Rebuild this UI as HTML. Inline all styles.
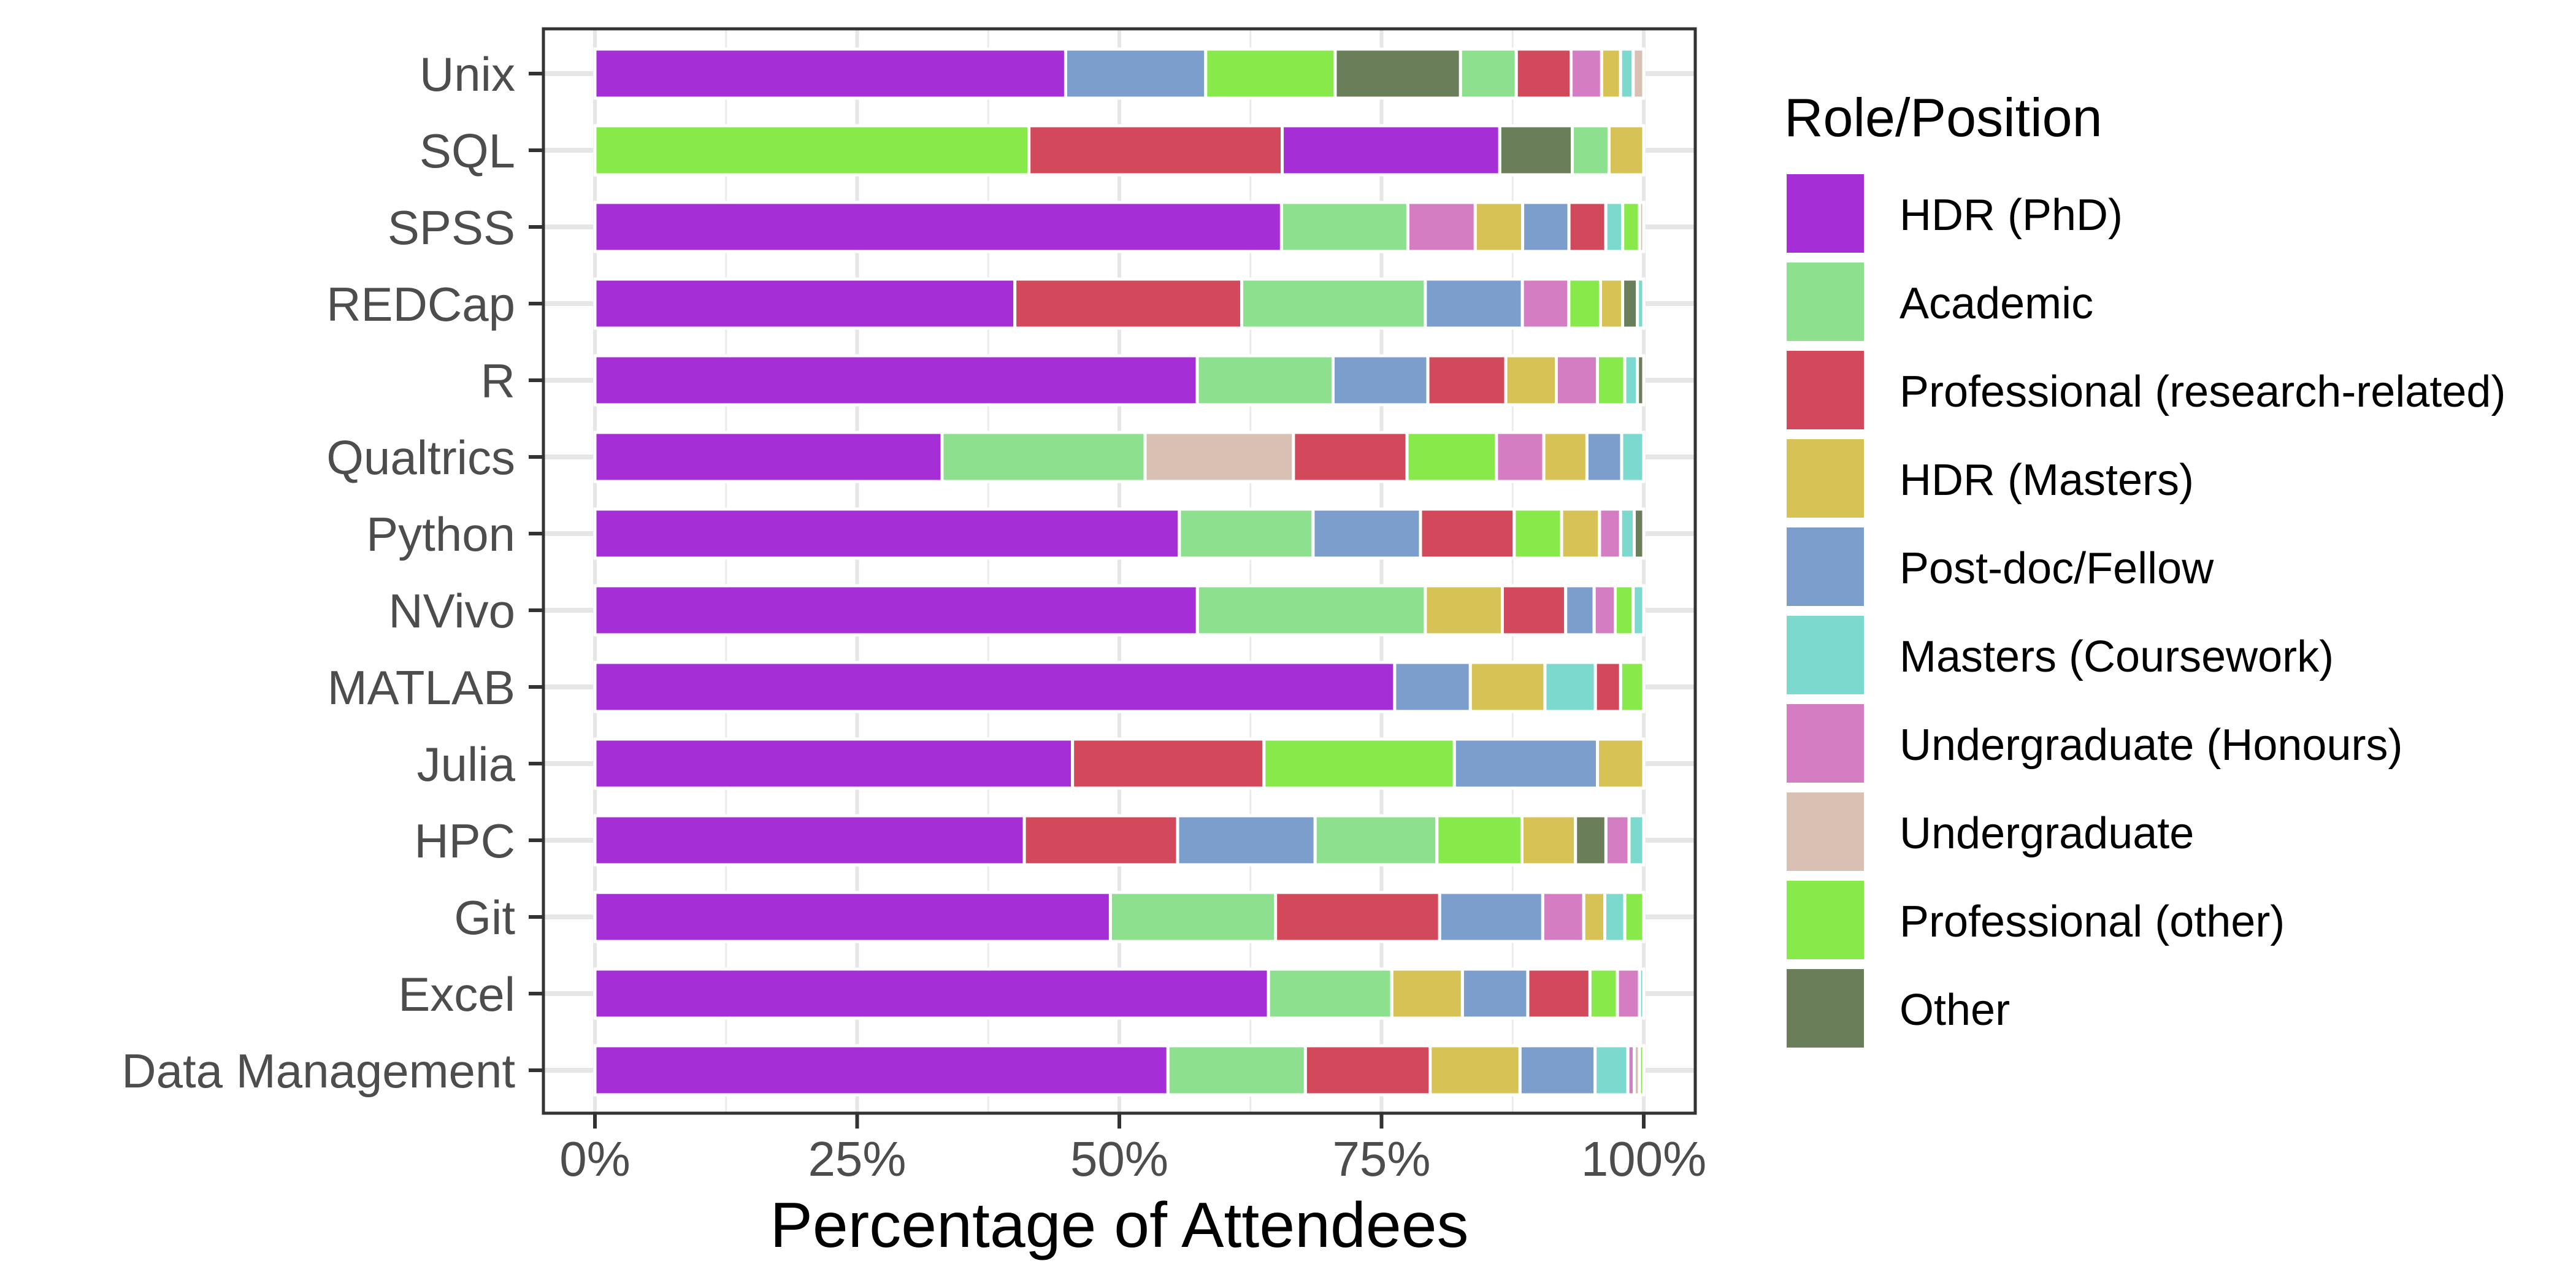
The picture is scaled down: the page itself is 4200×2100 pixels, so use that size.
<!DOCTYPE html>
<html><head><meta charset="utf-8"><style>
html,body{margin:0;padding:0;background:#fff;}
svg{display:block;font-family:"Liberation Sans",sans-serif;}
</style></head><body>
<svg id="chart" width="4200" height="2100" viewBox="0 0 4200 2100" xmlns="http://www.w3.org/2000/svg">
<rect x="0" y="0" width="4200" height="2100" fill="#fff"/>
<g id="grid"></g>
<g id="bars"></g>
<rect x="886" y="47" width="1878" height="1768" fill="none" stroke="#333" stroke-width="5"/>
<g id="yaxis"></g>
<g id="xaxis"></g>
<text x="1825" y="2033" font-size="104" text-anchor="middle" fill="#000">Percentage of Attendees</text>
<g id="legend">
<text x="2909" y="222" font-size="88" fill="#000">Role/Position</text>
</g>
</svg>
<script>
const tools = ["Unix","SQL","SPSS","REDCap","R","Qualtrics","Python","NVivo","MATLAB","Julia","HPC","Git","Excel","Data Management"];
const roles = ["HDR (PhD)","Academic","Professional (research-related)","HDR (Masters)","Post-doc/Fellow","Masters (Coursework)","Undergraduate (Honours)","Undergraduate","Professional (other)","Other"];
const roleColors = ["#a52ed7","#8de08e","#d1495b","#d6c255","#7b9ecc","#7bd9cd","#d47dc3","#d8c1b3","#87ea4a","#6a7e5a"];
const hdrPhd       = [44.7,20.7,65.2,39.8,57.2,33.0,55.5,57.1,76.1,45.4,40.9,49.0,63.9,54.2];
const academic     = [5.3,3.5,12.0,17.4,12.9,19.3,12.7,21.6,0,0,11.6,15.7,11.7,13.0];
const profResearch = [5.2,24.1,3.5,21.5,7.4,10.8,8.9,6.0,2.4,18.2,14.6,15.6,5.9,11.8];
const hdrMasters   = [1.8,3.3,4.5,2.1,4.8,4.1,3.6,7.3,7.1,4.4,5.1,2.0,6.7,8.5];
const postdoc      = [13.3,0,4.4,9.2,9.0,3.3,10.2,2.7,7.2,13.6,13.1,9.8,6.2,7.1];
const mastersCw    = [1.2,0,1.6,0.6,1.2,2.1,1.3,1.0,4.8,0,1.4,1.9,0.4,3.1];
const ugHonours    = [2.9,0,6.4,4.4,3.9,4.5,2.0,2.0,0,0,2.2,3.9,2.1,0.6];
const undergrad    = [1.0,0,0.4,0,0,14.1,0,0,0,0,0,0,0,0.5];
const profOther    = [12.3,41.3,1.6,3.0,2.6,8.5,4.5,1.7,2.2,18.1,8.1,1.8,2.6,0.4];
const other        = [11.9,6.9,0,1.4,0.6,0,0.9,0,0,0,2.9,0,0,0];
const series = [hdrPhd,academic,profResearch,hdrMasters,postdoc,mastersCw,ugHonours,undergrad,profOther,other];
const xTicks = [0,25,50,75,100];
const xTickLabels = ["0%","25%","50%","75%","100%"];

const NS="http://www.w3.org/2000/svg";
function mk(tag,attrs,parent){const e=document.createElementNS(NS,tag);for(const k in attrs)e.setAttribute(k,attrs[k]);parent.appendChild(e);return e;}
const X0=970,X1=2680,PL=886,PR=2764,PT=47,PB=1815;
const xs=v=>X0+(X1-X0)*v/100;
const ys=i=>120+i*125;
const barH=80;

const grid=document.getElementById('grid');
for(let i=0;i<xTicks.length-1;i++){
  const m=(xTicks[i]+xTicks[i+1])/2;
  const g=mk('line',{x1:xs(m),x2:xs(m),y1:PT,y2:PB,stroke:'#ebebeb','stroke-width':3},grid);
  
  
}
xTicks.forEach(t=>{
  const g=mk('line',{x1:xs(t),x2:xs(t),y1:PT,y2:PB,stroke:'#e6e6e6','stroke-width':6},grid);
  
  
});
tools.forEach((t,i)=>{
  const g=mk('line',{x1:PL,x2:PR,y1:ys(i),y2:ys(i),stroke:'#e6e6e6','stroke-width':8},grid);
  
  
});

const bars=document.getElementById('bars');
tools.forEach((t,i)=>{
  const segs=series.map((s,r)=>({r:r,v:s[i]})).filter(d=>d.v>0).sort((a,b)=>b.v-a.v);
  const total=segs.reduce((a,d)=>a+d.v,0);
  let acc=0;
  const grp=mk('g',{},bars);
  
  
  segs.forEach(d=>{
    const p=d.v/total*100;
    const x=xs(acc),w=xs(acc+p)-xs(acc);
    const r=mk('rect',{x:x,y:ys(i)-barH/2,width:w,height:barH,fill:roleColors[d.r],stroke:'#fff','stroke-width':5},grp);
    
    
    acc+=p;
  });
});

const ya=document.getElementById('yaxis');
tools.forEach((t,i)=>{
  const tk=mk('line',{x1:862,x2:PL,y1:ys(i),y2:ys(i),stroke:'#333','stroke-width':6},ya);
  
  
  const tx=mk('text',{x:840,y:ys(i)+28,'font-size':78,'text-anchor':'end',fill:'#4d4d4d'},ya);
  tx.textContent=t;
  
  
});
const xa=document.getElementById('xaxis');
xTicks.forEach((t,i)=>{
  const tk=mk('line',{x1:xs(t),x2:xs(t),y1:PB,y2:1840,stroke:'#333','stroke-width':6},xa);
  
  
  const tx=mk('text',{x:xs(t),y:1917,'font-size':80,'text-anchor':'middle',fill:'#4d4d4d'},xa);
  tx.textContent=xTickLabels[i];
  
  
});

const lg=document.getElementById('legend');
roles.forEach((r,i)=>{
  const top=284+i*144;
  const k=mk('rect',{x:2913,y:top,width:126,height:128,fill:roleColors[i]},lg);
  
  
  const tx=mk('text',{x:3097,y:top+91,'font-size':72,fill:'#000'},lg);
  tx.textContent=r;
  
  
});
</script>
</body></html>
